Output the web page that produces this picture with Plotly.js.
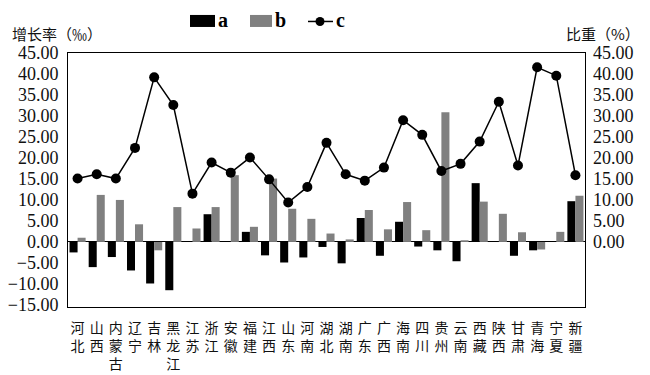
<!DOCTYPE html>
<html>
<head>
<meta charset="utf-8">
<script src="https://cdn.plot.ly/plotly-3.0.1.min.js"></script>
<style>html,body{margin:0;padding:0;background:#fff;}#chart{width:650px;height:375px;}</style>
</head>
<body>
<div id="chart"></div>
<script>
var provinces = ["河北","山西","内蒙古","辽宁","吉林","黑龙江","江苏","浙江","安徽","福建","江西","山东","河南","湖北","湖南","广东","广西","海南","四川","贵州","云南","西藏","陕西","甘肃","青海","宁夏","新疆"];
var seriesA = [-2.5,-6.0,-3.6,-6.8,-9.9,-11.5,0.0,6.6,0.2,2.4,-3.2,-4.9,-3.7,-1.2,-5.1,5.7,-3.3,4.8,-1.1,-2.0,-4.6,14.0,0.0,-3.3,-2.0,0.0,9.7];
var seriesB = [1.0,11.2,10.0,4.2,-2.0,8.3,3.2,8.3,15.9,3.6,15.1,7.9,5.5,2.0,0.6,7.6,3.0,9.5,2.8,30.9,0.4,9.6,6.7,2.3,-1.8,2.4,11.0];
var seriesC = [15.1,16.1,15.1,22.4,39.2,32.6,11.5,18.9,16.5,20.1,14.9,9.4,13.1,23.6,16.1,14.6,17.7,29.0,25.5,16.9,18.6,23.9,33.4,18.2,41.6,39.6,15.9];
var leftTicks = [-15,-10,-5,0,5,10,15,20,25,30,35,40,45];
var rightTicks = [0,5,10,15,20,25,30,35,40,45];
var seriesNames = ["a","b","c"];

var tickText = provinces.map(function(p){ return p.split("").join("<br>"); });

var serif = "Liberation Serif, Times New Roman, Noto Sans CJK SC, serif";
var cjk = "Noto Sans CJK SC, sans-serif";

var traces = [
  {type:"bar", name:seriesNames[0], x:provinces, y:seriesA, marker:{color:"#000000"}, yaxis:"y", showlegend:false},
  {type:"bar", name:seriesNames[1], x:provinces, y:seriesB, marker:{color:"#808080"}, yaxis:"y", showlegend:false},
  {type:"scatter", mode:"lines+markers", name:seriesNames[2], x:provinces, y:seriesC, yaxis:"y2",
   line:{color:"#000000", width:1.5}, marker:{color:"#000000", size:10}, showlegend:false, cliponaxis:false}
];

function py(p){ return (306.7 - p)/253.7; }
function px(p){ return (p - 68)/517; }

var layout = {
  width:650, height:375,
  margin:{l:68, r:65, t:53, b:68},
  paper_bgcolor:"#ffffff", plot_bgcolor:"#ffffff",
  barmode:"group", bargap:0.16, bargroupgap:0,
  showlegend:false,
  xaxis:{
    automargin:false, range:[-0.5, provinces.length-0.5],
    tickmode:"array", tickvals:provinces, ticktext:tickText,
    tickfont:{family:cjk, size:14, color:"#111"},
    showline:true, linecolor:"#000", linewidth:1, mirror:true,
    ticks:"", showgrid:false, tickangle:0, ticklabelstandoff:8
  },
  yaxis:{
    automargin:false,
    range:[-15.5,45], tickmode:"array", tickvals:leftTicks, tickformat:".2f",
    tickfont:{family:serif, size:18, color:"#111"},
    showline:true, linecolor:"#000", linewidth:1, mirror:true,
    ticks:"", showgrid:false, zeroline:true, zerolinecolor:"#000", zerolinewidth:1,
    ticklabelstandoff:5
  },
  yaxis2:{
    automargin:false,
    range:[-15.5,45], overlaying:"y", side:"right", tickmode:"array", tickvals:rightTicks, tickformat:".2f",
    tickfont:{family:serif, size:18, color:"#111"},
    showline:false, ticks:"", showgrid:false, zeroline:false, ticklabelstandoff:7
  },
  shapes:[
    {type:"rect", xref:"paper", yref:"paper", x0:px(190), x1:px(215), y0:py(27), y1:py(15), fillcolor:"#000", line:{width:0}},
    {type:"rect", xref:"paper", yref:"paper", x0:px(250), x1:px(272), y0:py(27), y1:py(15), fillcolor:"#808080", line:{width:0}},
    {type:"line", xref:"paper", yref:"paper", x0:px(308), x1:px(333), y0:py(21.5), y1:py(21.5), line:{color:"#000", width:1.5}},
    {type:"circle", xref:"paper", yref:"paper", x0:px(315.5), x1:px(324.5), y0:py(26), y1:py(17), fillcolor:"#000", line:{width:0}}
  ],
  annotations:[
    {xref:"paper", yref:"paper", x:px(216), y:py(20), text:"<b>"+seriesNames[0]+"</b>", showarrow:false, xanchor:"left", yanchor:"middle", font:{family:serif, size:20, color:"#000"}},
    {xref:"paper", yref:"paper", x:px(273), y:py(20), text:"<b>"+seriesNames[1]+"</b>", showarrow:false, xanchor:"left", yanchor:"middle", font:{family:serif, size:20, color:"#000"}},
    {xref:"paper", yref:"paper", x:px(334), y:py(20), text:"<b>"+seriesNames[2]+"</b>", showarrow:false, xanchor:"left", yanchor:"middle", font:{family:serif, size:20, color:"#000"}},
    {xref:"paper", yref:"paper", x:px(10), y:py(34), text:"增长率（‰）", showarrow:false, xanchor:"left", yanchor:"middle", font:{family:cjk, size:15, color:"#111"}},
    {xref:"paper", yref:"paper", x:px(642), y:py(34), text:"比重（%）", showarrow:false, xanchor:"right", yanchor:"middle", font:{family:cjk, size:15, color:"#111"}}
  ]
};

Plotly.newPlot("chart", traces, layout, {staticPlot:true, displayModeBar:false});
</script>
</body>
</html>
